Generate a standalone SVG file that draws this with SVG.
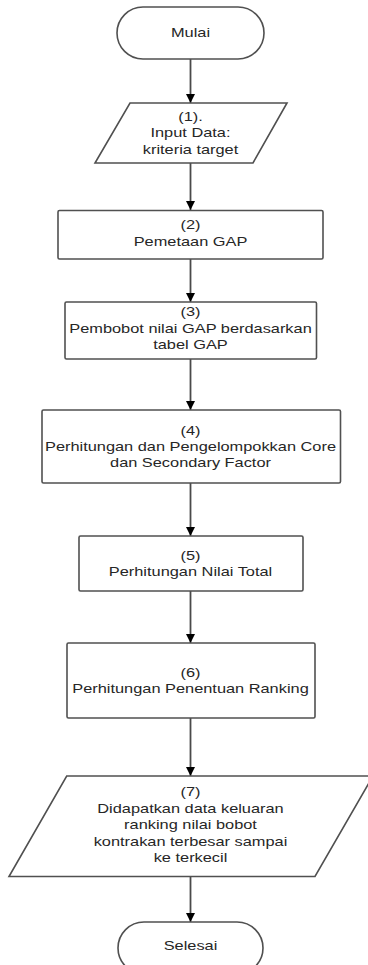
<svg xmlns="http://www.w3.org/2000/svg" width="368" height="965" viewBox="0 0 368 965">
<style>
.shape{fill:#ffffff;stroke:#505050;stroke-width:1.6}
.conn{stroke:#4a4a4a;stroke-width:1.8;fill:none}
.t{font-family:"Liberation Sans",Arial,sans-serif;font-size:13px;fill:#262626;text-anchor:middle}
</style>
<defs>
<marker id="arr" viewBox="0 0 10 10" refX="10" refY="5" markerWidth="9" markerHeight="9" markerUnits="userSpaceOnUse" orient="auto">
<path d="M0,0 L10,5 L0,10 Z" fill="#000"/>
</marker>
</defs>
<rect width="368" height="965" fill="#ffffff"/>
<g id="connectors">
<line class="conn" x1="190.5" y1="59" x2="190.5" y2="103" marker-end="url(#arr)"/>
<line class="conn" x1="190.5" y1="163" x2="190.5" y2="210" marker-end="url(#arr)"/>
<line class="conn" x1="190.5" y1="259" x2="190.5" y2="302" marker-end="url(#arr)"/>
<line class="conn" x1="190.5" y1="359" x2="190.5" y2="410" marker-end="url(#arr)"/>
<line class="conn" x1="190.5" y1="483" x2="190.5" y2="536" marker-end="url(#arr)"/>
<line class="conn" x1="190.5" y1="591" x2="190.5" y2="643" marker-end="url(#arr)"/>
<line class="conn" x1="190.5" y1="718" x2="190.5" y2="776" marker-end="url(#arr)"/>
<line class="conn" x1="190.5" y1="876" x2="190.5" y2="922" marker-end="url(#arr)"/>
</g>
<g id="mulai">
<rect class="shape" x="117" y="7" width="147" height="52" rx="26" ry="26"/>
<text class="t" transform="translate(190.5,37.3) scale(1.26,1)">Mulai</text>
</g>
<g id="step1">
<polygon class="shape" points="130,103 287,103 253,163 95,163"/>
<g transform="translate(190.5,0) scale(1.26,1)">
<text class="t" x="0" y="121">(1).</text>
<text class="t" x="0" y="137.5">Input Data:</text>
<text class="t" x="0" y="154">kriteria target</text>
</g>
</g>
<g id="step2">
<rect class="shape" x="58" y="210.5" width="265" height="48.5" rx="1.5"/>
<g transform="translate(190.5,0) scale(1.26,1)">
<text class="t" x="0" y="229.5">(2)</text>
<text class="t" x="0" y="245.7">Pemetaan GAP</text>
</g>
</g>
<g id="step3">
<rect class="shape" x="65" y="302" width="251.5" height="57" rx="1.5"/>
<g transform="translate(190.5,0) scale(1.26,1)">
<text class="t" x="0" y="316.5">(3)</text>
<text class="t" x="0" y="332.7">Pembobot nilai GAP berdasarkan</text>
<text class="t" x="0" y="349">tabel GAP</text>
</g>
</g>
<g id="step4">
<rect class="shape" x="42" y="410" width="298.5" height="73" rx="1.5"/>
<g transform="translate(190.5,0) scale(1.26,1)">
<text class="t" x="0" y="435">(4)</text>
<text class="t" x="0" y="451">Perhitungan dan Pengelompokkan Core</text>
<text class="t" x="0" y="467">dan Secondary Factor</text>
</g>
</g>
<g id="step5">
<rect class="shape" x="79" y="536" width="224" height="55" rx="1.5"/>
<g transform="translate(190.5,0) scale(1.26,1)">
<text class="t" x="0" y="560">(5)</text>
<text class="t" x="0" y="576">Perhitungan Nilai Total</text>
</g>
</g>
<g id="step6">
<rect class="shape" x="67" y="643" width="248" height="75" rx="1.5"/>
<g transform="translate(190.5,0) scale(1.26,1)">
<text class="t" x="0" y="676.7">(6)</text>
<text class="t" x="0" y="692.7">Perhitungan Penentuan Ranking</text>
</g>
</g>
<g id="step7">
<polygon class="shape" points="66.7,776 373,776 315,876.5 9,876.5"/>
<g transform="translate(190.5,0) scale(1.26,1)">
<text class="t" x="0" y="796.5">(7)</text>
<text class="t" x="0" y="813">Didapatkan data keluaran</text>
<text class="t" x="0" y="829.5">ranking nilai bobot</text>
<text class="t" x="0" y="846">kontrakan terbesar sampai</text>
<text class="t" x="0" y="862.5">ke terkecil</text>
</g>
</g>
<g id="selesai">
<rect class="shape" x="118" y="922" width="145" height="52" rx="26" ry="26"/>
<text class="t" transform="translate(190.5,950) scale(1.26,1)">Selesai</text>
</g>
</svg>
